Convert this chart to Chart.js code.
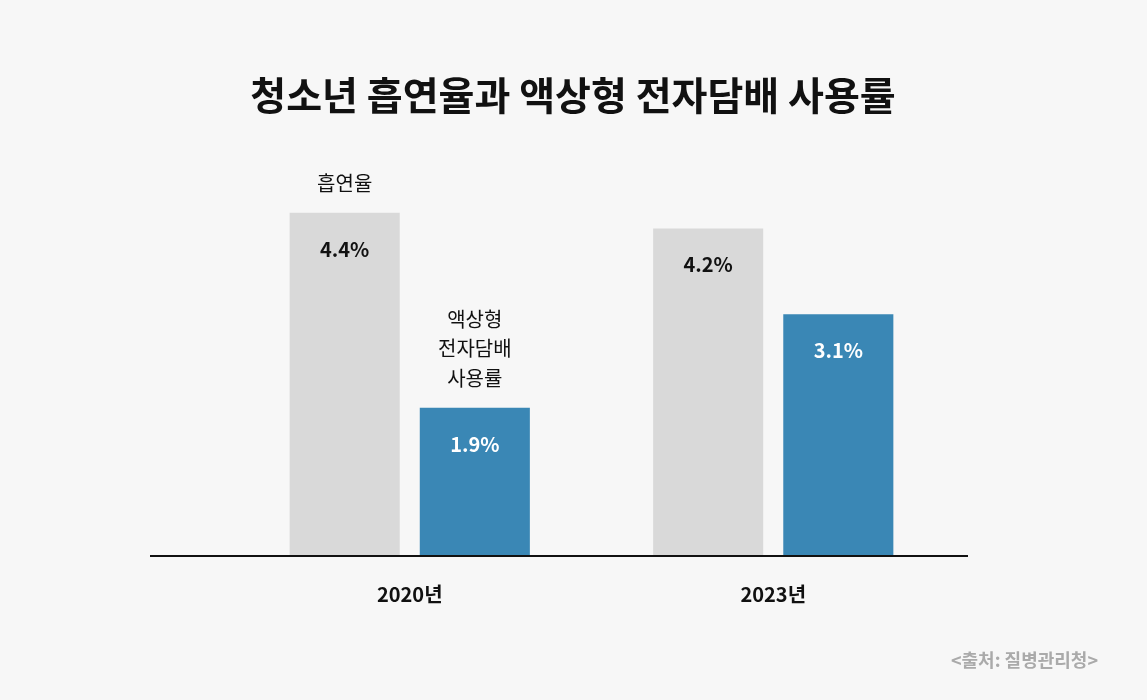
<!DOCTYPE html>
<html><head><meta charset="utf-8">
<script src="https://cdn.jsdelivr.net/npm/chart.js@4"></script>
<style>html,body{margin:0;background:#f7f7f7;}#w{width:1147px;height:700px;position:relative;}</style>
</head><body><div id="w"><canvas id="c" width="1147" height="700"></canvas></div>
<script>
const categories = ['2020년', '2023년'];
const smokingRate = [4.4, 4.2];
const vapeRate = [1.9, 3.1];
const seriesNames = ['흡연율', ['액상형', '전자담배', '사용률']];
const FONT = '"Noto Sans CJK KR", "Noto Sans", sans-serif';

const deco = {
  id: 'deco',
  afterDatasetsDraw(chart) {
    const ctx = chart.ctx, a = chart.chartArea;
    ctx.save();
    ctx.fillStyle = '#111';
    ctx.textAlign = 'center';
    ctx.font = 'bold 39px ' + FONT;
    ctx.fillText('청소년 흡연율과 액상형 전자담배 사용률', 573, 110);
    ctx.strokeStyle = '#111'; ctx.lineWidth = 2;
    ctx.beginPath(); ctx.moveTo(150, a.bottom); ctx.lineTo(968, a.bottom); ctx.stroke();
    chart.data.datasets.forEach((ds, di) => {
      chart.getDatasetMeta(di).data.forEach((bar, i) => {
        ctx.font = 'bold 20px ' + FONT;
        ctx.fillStyle = di === 0 ? '#111' : '#fff';
        ctx.fillText(ds.data[i].toFixed(1) + '%', bar.x, bar.y + 44);
        if (i === 0) {
          ctx.font = '20px ' + FONT; ctx.fillStyle = '#111';
          const lines = [].concat(seriesNames[di]);
          lines.forEach((t, k) => ctx.fillText(t, bar.x, bar.y - 22 - (lines.length - 1 - k) * 29.5));
        }
      });
    });
    ctx.font = 'bold 18px ' + FONT; ctx.fillStyle = '#aaa'; ctx.textAlign = 'right';
    ctx.fillText('<출처: 질병관리청>', 1098, 667);
    ctx.restore();
  }
};

new Chart(document.getElementById('c'), {
  type: 'bar',
  data: { labels: categories, datasets: [
    { data: smokingRate, backgroundColor: '#d9d9d9' },
    { data: vapeRate, backgroundColor: '#3a87b5' }
  ]},
  options: {
    responsive: false, animation: false,
    layout: { padding: { left: 228, right: 192, top: 127, bottom: 76 } },
    plugins: { legend: { display: false }, tooltip: { enabled: false } },
    datasets: { bar: { categoryPercentage: 0.716, barPercentage: 0.846 } },
    scales: {
      x: { grid: { display: false }, border: { display: false },
           ticks: { color: '#111', font: { family: FONT, size: 20, weight: 'bold' }, padding: 18 } },
      y: { display: false, min: 0, max: 5.5 }
    }
  },
  plugins: [deco]
});
</script></body></html>
